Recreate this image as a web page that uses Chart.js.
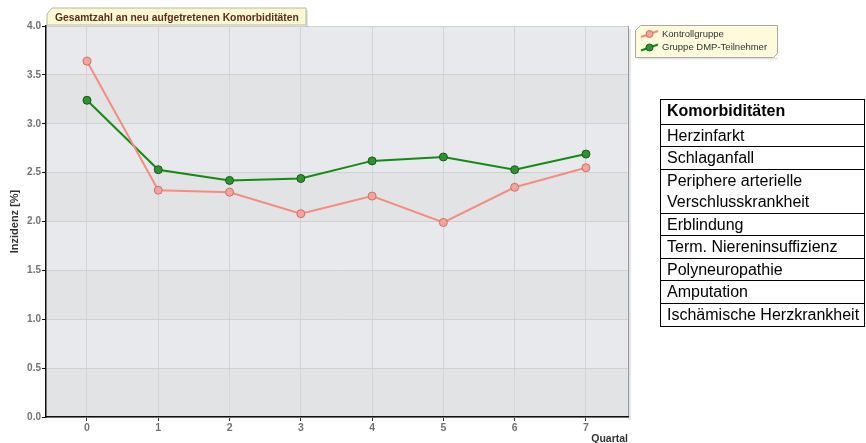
<!DOCTYPE html>
<html lang="de">
<head>
<meta charset="utf-8">
<title>Gesamtzahl an neu aufgetretenen Komorbiditäten</title>
<script src="https://cdn.jsdelivr.net/npm/chart.js@4"></script>
<style>
  html, body { margin: 0; padding: 0; background: #fff; }
  #wrap { position: relative; width: 866px; height: 443px; overflow: hidden; }
  #chart { position: absolute; left: 0; top: 0; }
  #komo {
    position: absolute; left: 660px; top: 99px; width: 205px;
    border: 1.5px solid #000; font-family: "Liberation Sans", Arial, sans-serif;
    font-size: 16px; color: #000; box-sizing: border-box;
  }
  #komo div { padding-left: 6px; border-top: 1.5px solid #000; height: 22.6px; line-height: 22px; box-sizing: border-box; white-space: nowrap; }
  #komo div:first-child { border-top: none; font-weight: bold; height: 23.5px; }
  #komo div.two { height: 44px; line-height: 21px; }
</style>
</head>
<body>
<div id="wrap">
  <canvas id="chart" width="866" height="443"></canvas>
  <div id="komo"></div>
</div>
<script>
// Quartale und Inzidenzen [%]
const quartale = [0, 1, 2, 3, 4, 5, 6, 7];
const kontrollgruppe = [3.64, 2.32, 2.30, 2.08, 2.26, 1.99, 2.35, 2.55];
const dmpGruppe = [3.24, 2.53, 2.42, 2.44, 2.62, 2.66, 2.53, 2.69];
const yTicks = [0, 0.5, 1.0, 1.5, 2.0, 2.5, 3.0, 3.5, 4.0];
const serienNamen = ["Kontrollgruppe", "Gruppe DMP-Teilnehmer"];
const titel = "Gesamtzahl an neu aufgetretenen Komorbiditäten";
const komorbiditaeten = [
  "Komorbiditäten", "Herzinfarkt", "Schlaganfall",
  "Periphere arterielle\nVerschlusskrankheit", "Erblindung",
  "Term. Niereninsuffizienz", "Polyneuropathie", "Amputation",
  "Ischämische Herzkrankheit"
];

// Tabelle rechts
const tab = document.getElementById("komo");
komorbiditaeten.forEach(t => {
  const d = document.createElement("div");
  if (t.includes("\n")) { d.className = "two"; d.innerHTML = t.split("\n").join("<br>"); }
  else d.textContent = t;
  tab.appendChild(d);
});

const colors = {
  kontrolle: { line: "#f58c80", fill: "#f7a39b", border: "#cf6f66" },
  dmp: { line: "#148a14", fill: "#2f912f", border: "#1a5a1a" }
};

// Hintergrundbänder, Titelreiter und Legende
const deko = {
  id: "deko",
  beforeDraw(chart) {
    const { ctx, chartArea: a, scales: { y } } = chart;
    ctx.save();
    ctx.fillStyle = "rgba(0,0,0,0.10)";
    ctx.fillRect(a.right, a.top + 3, 3, a.bottom - a.top);
    ctx.fillStyle = "#e7e9ec";
    ctx.fillRect(a.left, a.top, a.right - a.left, a.bottom - a.top);
    ctx.fillStyle = "#e2e3e5";
    for (let v = 0; v < 4; v += 1) {
      const y0 = y.getPixelForValue(v), y1 = y.getPixelForValue(v + 0.5);
      ctx.fillRect(a.left, y1, a.right - a.left, y0 - y1);
    }
    ctx.strokeStyle = "#9a9a9a";
    ctx.lineWidth = 1;
    ctx.beginPath();
    ctx.moveTo(a.right + 0.5, a.top);
    ctx.lineTo(a.right + 0.5, a.bottom);
    ctx.stroke();
    ctx.restore();
  },
  afterDraw(chart) {
    const { ctx, chartArea: a } = chart;
    ctx.save();
    // Titelreiter
    const tl = a.left + 1, tt = 8, tr = 306, tb = a.top - 1;
    ctx.fillStyle = "rgba(0,0,0,0.12)";
    ctx.fillRect(tr, tt + 2, 2, tb - tt);
    ctx.beginPath();
    ctx.moveTo(tl, tt + 6);
    ctx.lineTo(tl + 5, tt);
    ctx.lineTo(tr, tt);
    ctx.lineTo(tr, tb);
    ctx.lineTo(tl, tb);
    ctx.closePath();
    ctx.fillStyle = "#fbf9d3";
    ctx.fill();
    ctx.strokeStyle = "#b9b69c";
    ctx.lineWidth = 1;
    ctx.stroke();
    ctx.fillStyle = "#5c2b1d";
    ctx.font = "bold 10.3px 'Liberation Sans', Arial, sans-serif";
    ctx.textBaseline = "middle";
    ctx.textAlign = "left";
    ctx.fillText(titel, 55, 18);

    // Legende
    const ll = 635.5, lt = 25.5, lr = 777.5, lb = 57.5;
    ctx.fillStyle = "rgba(0,0,0,0.10)";
    ctx.fillRect(ll + 3, lb, lr - ll - 3, 2);
    ctx.beginPath();
    ctx.moveTo(ll, lt + 5);
    ctx.lineTo(ll + 5, lt);
    ctx.lineTo(lr, lt);
    ctx.lineTo(lr, lb - 4);
    ctx.lineTo(lr - 4, lb);
    ctx.lineTo(ll, lb);
    ctx.closePath();
    ctx.fillStyle = "#fdfbdc";
    ctx.fill();
    ctx.strokeStyle = "#a8a8a0";
    ctx.stroke();
    chart.data.datasets.forEach((ds, i) => {
      const cy = 34 + i * 13.5;
      ctx.strokeStyle = ds.borderColor;
      ctx.lineWidth = 2;
      ctx.beginPath();
      ctx.moveTo(641, cy + 3);
      ctx.lineTo(658, cy - 3);
      ctx.stroke();
      ctx.beginPath();
      ctx.arc(649.5, cy, 3.5, 0, Math.PI * 2);
      ctx.fillStyle = ds.pointBackgroundColor;
      ctx.fill();
      ctx.lineWidth = 1;
      ctx.strokeStyle = ds.pointBorderColor;
      ctx.stroke();
      ctx.fillStyle = "#333";
      ctx.font = "9.5px 'Liberation Sans', Arial, sans-serif";
      ctx.textAlign = "left";
      ctx.textBaseline = "middle";
      ctx.fillText(ds.label, 662, cy);
    });
    ctx.restore();
  }
};

const fam = "'Liberation Sans', Arial, sans-serif";

new Chart(document.getElementById("chart"), {
  type: "line",
  data: {
    datasets: [
      {
        label: serienNamen[0],
        data: quartale.map((q, i) => ({ x: q, y: kontrollgruppe[i] })),
        borderColor: colors.kontrolle.line,
        borderWidth: 2,
        pointBackgroundColor: colors.kontrolle.fill,
        pointBorderColor: colors.kontrolle.border,
        pointBorderWidth: 1,
        pointRadius: 4,
        tension: 0
      },
      {
        label: serienNamen[1],
        data: quartale.map((q, i) => ({ x: q, y: dmpGruppe[i] })),
        borderColor: colors.dmp.line,
        borderWidth: 2,
        pointBackgroundColor: colors.dmp.fill,
        pointBorderColor: colors.dmp.border,
        pointBorderWidth: 1,
        pointRadius: 4,
        tension: 0
      }
    ]
  },
  options: {
    responsive: false,
    animation: false,
    devicePixelRatio: 1,
    layout: { padding: { left: 0, top: 26, right: 238, bottom: 0 } },
    plugins: { legend: { display: false }, tooltip: { enabled: false } },
    scales: {
      x: {
        type: "linear",
        min: -0.575,
        max: 7.59,
        afterBuildTicks: s => { s.ticks = quartale.map(v => ({ value: v })); },
        afterFit: s => { s.height = 26; },
        grid: { color: "#d3d4d6", lineWidth: 1, tickColor: "#333", tickLength: 4 },
        border: { color: "#111", width: 1.5 },
        ticks: { color: "#727272", font: { family: fam, size: 10.5, weight: "bold" }, padding: 1, callback: v => String(v) },
        title: {
          display: true, text: "Quartal", align: "end", color: "#333",
          font: { family: fam, size: 10.5, weight: "bold" },
          padding: { top: 0, bottom: -2 }
        }
      },
      y: {
        min: 0,
        max: 4,
        afterBuildTicks: s => { s.ticks = yTicks.map(v => ({ value: v })); },
        afterFit: s => { s.width = 46; },
        grid: { color: "#cfd0d2", lineWidth: 1, tickColor: "#111", tickLength: 4 },
        border: { color: "#111", width: 1.5 },
        ticks: { color: "#727272", font: { family: fam, size: 10, weight: "bold" }, padding: 1, callback: v => v.toFixed(1) },
        title: {
          display: true, text: "Inzidenz [%]", color: "#333",
          font: { family: fam, size: 11, weight: "bold" },
          padding: { top: 8, bottom: 0 }
        }
      }
    }
  },
  plugins: [deko]
});
</script>
</body>
</html>
